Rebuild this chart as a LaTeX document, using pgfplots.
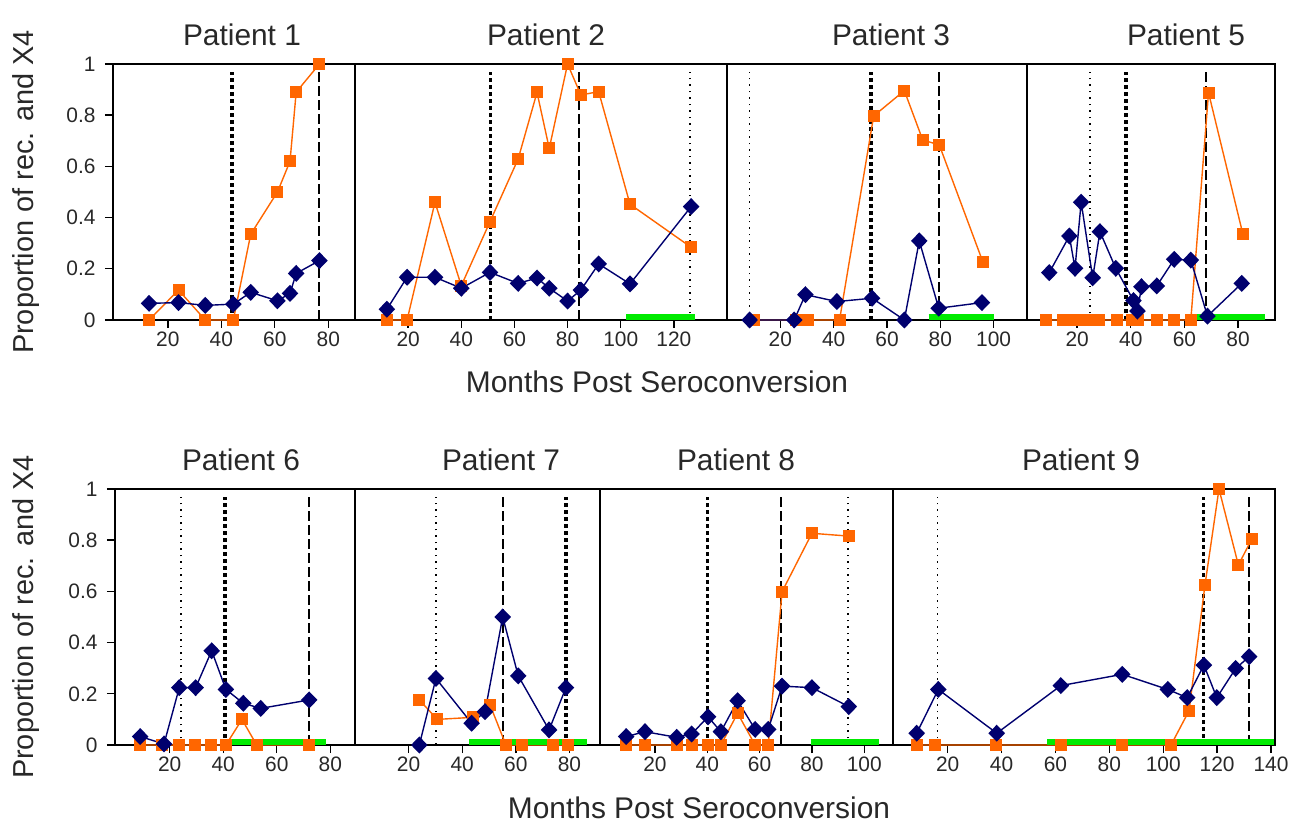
\documentclass[border=0pt]{standalone}
\usepackage{fontspec}
\setmainfont{Liberation Sans}
\usepackage{pgfplots}
\pgfplotsset{compat=1.18}

\definecolor{navyc}{RGB}{0,0,110}
\definecolor{orangec}{RGB}{255,102,0}
\definecolor{greenc}{RGB}{0,235,0}
\definecolor{txt}{RGB}{40,40,40}

\pgfplotsset{
  panel/.style={
    scale only axis, height=256bp, anchor=south west,
    ymin=0, ymax=1, ytick=\empty,
    axis line style={line width=1.6bp, black},
    tick align=outside, xtick pos=bottom, ytick pos=left,
    major tick length=8bp, tick style={line width=1.4bp, black},
    ticklabel style={font=\fontsize{21}{21}\selectfont, text=txt},
    yticklabel style={xshift=-6bp},
    /pgf/number format/assume math mode=true,
    clip=false,
  },
  firstpanel/.style={ytick={0,0.2,0.4,0.6,0.8,1}},
  blueline/.style={color=navyc, line width=1.4bp, mark=diamond*,
    mark size=7.5bp, mark options={solid, fill=navyc, xscale=1.3}},
  orangeline/.style={color=orangec, line width=1.4bp, mark=square*,
    mark size=5.3bp, mark options={solid, fill=orangec}},
  greenbar/.style={color=greenc, line width=6bp, no marks},
  thindot/.style={black, line width=1.5bp, dash pattern=on 1.5bp off 5bp, no marks},
  thickdot/.style={black, line width=3.5bp, dash pattern=on 3.5bp off 3.5bp, no marks},
  dashv/.style={black, line width=2bp, dash pattern=on 10bp off 4bp, no marks},
}

\begin{document}
\begin{tikzpicture}
\useasboundingbox (0,0) rectangle (1289bp,825bp);

% ---- top row ----
% Patient 1
\begin{axis}[panel, firstpanel, at={(113bp,505bp)}, width=242bp,
  xmin=-0.5, xmax=90, xtick={20,40,60,80}]
\addplot[thickdot] coordinates {(44,0) (44,0.97)};
\addplot[dashv] coordinates {(76.4,0) (76.4,0.99)};
\addplot[orangeline] coordinates {(13,0) (24,0.117) (34,0) (44.5,0) (51,0.335) (61,0.50) (65.7,0.62) (68,0.89) (76.7,1.0)};
\addplot[blueline] coordinates {(13,0.065) (24,0.068) (34,0.057) (44.5,0.062) (51,0.108) (61,0.075) (65.7,0.104) (68,0.182) (76.7,0.232)};
\end{axis}

% Patient 2
\begin{axis}[panel, at={(355bp,505bp)}, width=372bp,
  xmin=0, xmax=140, xtick={20,40,60,80,100,120}]
\addplot[thickdot] coordinates {(51,0) (51,0.97)};
\addplot[dashv] coordinates {(84.2,0) (84.2,0.97)};
\addplot[thindot] coordinates {(126,0) (126,0.97)};
\addplot[orangeline] coordinates {(12,0) (19.6,0) (30.1,0.46) (40,0.134) (50.8,0.384) (61.4,0.629) (68.5,0.889) (73.1,0.67) (80,1.0) (85,0.879) (91.7,0.892) (103.5,0.452) (126.5,0.284)};
\addplot[greenbar] coordinates {(102,0.01) (128,0.01)};
\addplot[blueline] coordinates {(12,0.042) (19.6,0.167) (30.1,0.167) (40,0.124) (50.8,0.186) (61.4,0.143) (68.5,0.164) (73.1,0.124) (80,0.074) (85,0.117) (91.7,0.219) (103.5,0.141) (126.5,0.443)};
\end{axis}

% Patient 3
\begin{axis}[panel, at={(727bp,505bp)}, width=300bp,
  xmin=0, xmax=112.5, xtick={20,40,60,80,100}]
\addplot[thindot] coordinates {(8.5,0) (8.5,0.97)};
\addplot[thickdot] coordinates {(54,0) (54,0.97)};
\addplot[dashv] coordinates {(79.4,0) (79.4,0.97)};
\addplot[orangeline] coordinates {(10,0) (26,0) (30.2,0) (42.2,0) (55,0.797) (66.5,0.896) (73.4,0.703) (79.6,0.684) (95.9,0.228)};
\addplot[greenbar] coordinates {(75.6,0.01) (100.3,0.01)};
\addplot[blueline] coordinates {(8.5,0) (25.2,0) (29.4,0.099) (41.2,0.072) (54.4,0.085) (66.5,0) (72.1,0.309) (79.4,0.046) (95.6,0.068)};
\end{axis}

% Patient 5
\begin{axis}[panel, at={(1027bp,505bp)}, width=248bp,
  xmin=1.3, xmax=93.8, xtick={20,40,60,80}]
\addplot[thindot] coordinates {(24.8,0) (24.8,0.97)};
\addplot[thickdot] coordinates {(38.2,0) (38.2,0.97)};
\addplot[dashv] coordinates {(68.1,0) (68.1,0.97)};
\addplot[orangeline] coordinates {(8.4,0) (14.6,0) (17.1,0) (19.2,0) (21.4,0) (25.1,0) (28.3,0) (34.8,0) (40.4,0) (42.8,0) (49.7,0) (56.2,0) (62.4,0) (69,0.888) (81.8,0.336)};
\addplot[greenbar] coordinates {(64.6,0.01) (90.1,0.01)};
\addplot[blueline] coordinates {(9.6,0.185) (17.1,0.328) (19.2,0.202) (21.5,0.46) (25.8,0.165) (28.5,0.345) (34.4,0.202) (41,0.076) (42.5,0.035) (44,0.13) (49.7,0.133) (56.2,0.237) (62.4,0.234) (68.6,0.015) (81.4,0.143)};
\end{axis}

% ---- bottom row ----
% Patient 6
\begin{axis}[panel, firstpanel, at={(115bp,80bp)}, width=240bp,
  xmin=-0.4, xmax=89.2, xtick={20,40,60,80}]
\addplot[thindot] coordinates {(24.3,0) (24.3,0.97)};
\addplot[thickdot] coordinates {(40.7,0) (40.7,0.97)};
\addplot[dashv] coordinates {(72.1,0) (72.1,0.97)};
\addplot[orangeline] coordinates {(9,0) (17,0) (23.6,0) (29.5,0) (35.4,0) (41,0) (47,0.10) (52.5,0) (72.1,0)};
\addplot[greenbar] coordinates {(41,0.01) (78.4,0.01)};
\addplot[blueline] coordinates {(9,0.033) (17.9,0.004) (23.6,0.224) (29.7,0.224) (35.7,0.368) (41,0.217) (47.5,0.163) (54,0.143) (72.1,0.176)};
\end{axis}

% Patient 7
\begin{axis}[panel, at={(355bp,80bp)}, width=245bp,
  xmin=0, xmax=91.4, xtick={20,40,60,80}]
\addplot[thindot] coordinates {(30.2,0) (30.2,0.97)};
\addplot[dashv] coordinates {(55.1,0) (55.1,0.97)};
\addplot[thickdot] coordinates {(78.7,0) (78.7,0.97)};
\addplot[orangeline] coordinates {(24,0.176) (30.7,0.10) (43.9,0.108) (50.4,0.156) (56.3,0) (62.2,0) (74,0) (79.6,0)};
\addplot[greenbar] coordinates {(42.7,0.01) (86.5,0.01)};
\addplot[blueline] coordinates {(24,0) (30.2,0.26) (43.5,0.085) (48.5,0.13) (55.1,0.50) (60.9,0.27) (72.4,0.059) (78.7,0.224)};
\end{axis}

% Patient 8
\begin{axis}[panel, at={(600bp,80bp)}, width=293bp,
  xmin=-1, xmax=111, xtick={20,40,60,80,100}]
\addplot[thickdot] coordinates {(40,0) (40,0.97)};
\addplot[dashv] coordinates {(68.3,0) (68.3,0.97)};
\addplot[thindot] coordinates {(93.7,0) (93.7,0.97)};
\addplot[orangeline] coordinates {(9,0) (16.2,0) (28.3,0) (34,0) (40.3,0) (45.2,0) (51.6,0.124) (58.3,0) (63.3,0) (68.6,0.599) (80,0.827) (94.1,0.816)};
\addplot[greenbar] coordinates {(79.5,0.01) (105.5,0.01)};
\addplot[blueline] coordinates {(9,0.033) (16.2,0.052) (28.3,0.03) (34,0.043) (40.3,0.11) (45.2,0.052) (51.6,0.173) (58.3,0.061) (63.3,0.061) (68.6,0.23) (80,0.224) (94.1,0.15)};
\end{axis}

% Patient 9
\begin{axis}[panel, at={(893bp,80bp)}, width=382bp,
  xmin=-0.3, xmax=141.5, xtick={20,40,60,80,100,120,140}]
\addplot[thindot] coordinates {(16.2,0) (16.2,0.97)};
\addplot[thickdot] coordinates {(115,0) (115,0.97)};
\addplot[dashv] coordinates {(132,0) (132,0.97)};
\addplot[orangeline] coordinates {(8.5,0) (15.3,0) (37.8,0) (62,0) (84.8,0) (102.9,0) (109.6,0.134) (115.5,0.625) (120.7,1.0) (127.9,0.703) (132.8,0.803)};
\addplot[greenbar] coordinates {(57,0.01) (141,0.01)};
\addplot[blueline] coordinates {(8.5,0.046) (16.5,0.217) (38.2,0.046) (62,0.232) (84.8,0.276) (101.7,0.217) (108.9,0.185) (115.1,0.312) (119.9,0.185) (126.9,0.299) (131.9,0.345)};
\end{axis}

% ---- titles and axis labels ----
\begin{scope}[every node/.style={text=txt, anchor=base, inner sep=0pt,
    font=\fontsize{30}{30}\selectfont}]
\node at (242bp,779bp) {Patient 1};
\node at (546bp,779bp) {Patient 2};
\node at (891bp,779bp) {Patient 3};
\node at (1186bp,779bp) {Patient 5};
\node at (241bp,354bp) {Patient 6};
\node at (501bp,354bp) {Patient 7};
\node at (736bp,354bp) {Patient 8};
\node at (1081bp,354bp) {Patient 9};
\node at (657bp,432bp) {Months Post Seroconversion};
\node at (699bp,7bp) {Months Post Seroconversion};
\node[rotate=90, font=\fontsize{29}{29}\selectfont] at (33.5bp,633bp) {Proportion of rec. and X4};
\node[rotate=90, font=\fontsize{29}{29}\selectfont] at (33.5bp,208bp) {Proportion of rec. and X4};
\end{scope}
\end{tikzpicture}
\end{document}
